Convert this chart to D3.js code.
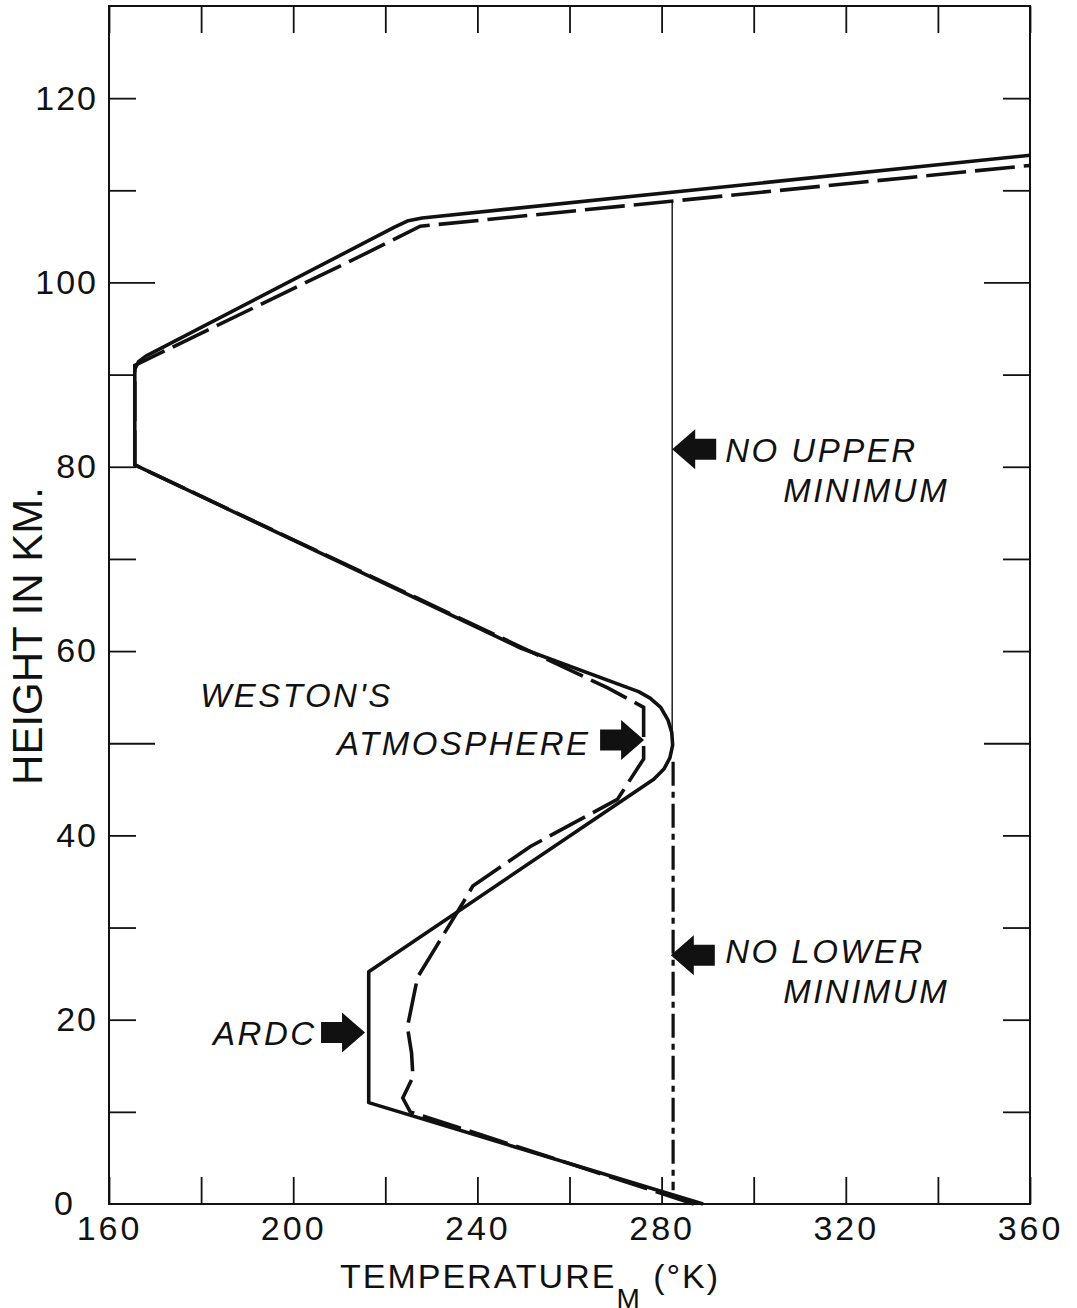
<!DOCTYPE html>
<html>
<head>
<meta charset="utf-8">
<script src="https://cdn.jsdelivr.net/npm/d3@7"></script>
<style>
  body { margin: 0; background: #fff; }
  svg { display: block; }
  .tick text { font-family: "Liberation Sans", Arial, sans-serif; fill: #111; }
  .note { font-family: "Liberation Sans", Arial, sans-serif; font-style: italic; fill: #111; }
</style>
</head>
<body>
<div id="chart"></div>
<script>
// temperature profiles, [temperature K, height km]
var ardcProfile = [
  [289, 0], [216.4, 11], [216.4, 25.2], [278.3, 46.1], [280.5, 47.2],
  [281.8, 48.4], [282.4, 49.8], [282.2, 51.2], [281.4, 52.5], [279.8, 53.9],
  [277.5, 54.9], [275, 55.6], [249.5, 60.3], [165.6, 80.2], [165.6, 90.6],
  [166.4, 91.4], [168, 92], [222, 106], [225, 106.7], [228, 107], [360, 113.8]
];
var westonProfile = [
  [287, 0], [225.4, 10], [223.8, 11.5], [226, 13.8], [225.7, 16.4],
  [224.8, 19.2], [227, 24.6], [237, 32.8], [239, 34.5], [251.5, 38.8],
  [270.4, 43.9], [276.1, 48.3], [276.1, 53.9], [268.3, 56], [165.6, 80.2],
  [165.6, 91], [216, 103.2], [227.6, 106.1], [360, 112.7]
];
// the two "no minimum" verticals
var noUpperMin = [[282.3, 108.8], [282.3, 49.7]];
var noLowerMin = [[282.5, 48.0], [282.5, 1.5]];

// axes
var xTicks = [160, 180, 200, 220, 240, 260, 280, 300, 320, 340, 360];
var xLabels = [160, 200, 240, 280, 320, 360];
var yTicks = [10, 20, 30, 40, 60, 70, 80, 90, 110, 120];
var yLongTicks = [50, 100];
var yLabels = [0, 20, 40, 60, 80, 100, 120];

// arrows: tip at [T, h], dir +1 points right, -1 points left
var arrows = [
  { t: 276.2, h: 50.35, dir: 1 },
  { t: 215.6, h: 18.6, dir: 1 },
  { t: 282.3, h: 81.9, dir: -1 },
  { t: 282.0, h: 27.0, dir: -1 }
];
var notes = [
  { text: "WESTON'S", t: 179.8, h: 53.9 },
  { text: "ATMOSPHERE", t: 209.5, h: 48.7 },
  { text: "ARDC", t: 182.6, h: 17.3 },
  { text: "NO UPPER", t: 293.8, h: 80.5 },
  { text: "MINIMUM", t: 306.4, h: 76.2 },
  { text: "NO LOWER", t: 293.8, h: 26.2 },
  { text: "MINIMUM", t: 306.4, h: 21.8 }
];

var svgWidth = 1077, svgHeight = 1308;
var plotLeft = 109, plotRight = 1030, plotTop = 6, plotBottom = 1204;

var svg = d3.select("#chart").append("svg")
  .attr("width", svgWidth)
  .attr("height", svgHeight);

svg.append("rect")
  .attr("width", svgWidth).attr("height", svgHeight)
  .attr("fill", "#fff");

var x = d3.scaleLinear().domain([160, 360]).range([plotLeft, plotRight]);
var y = d3.scaleLinear().domain([0, 130]).range([plotBottom, plotTop]);

// tick marks, all pointing inward
function ticksOnly(axis) {
  return function(g) {
    g.call(axis);
    g.select(".domain").remove();
    g.selectAll(".tick line").attr("stroke", "#111").attr("stroke-width", 1.8);
    g.selectAll(".tick text").remove();
  };
}

svg.append("g")
  .attr("transform", "translate(0," + plotBottom + ")")
  .call(ticksOnly(d3.axisBottom(x).tickValues(xTicks).tickSize(-27)));
svg.append("g")
  .attr("transform", "translate(0," + plotTop + ")")
  .call(ticksOnly(d3.axisTop(x).tickValues(xTicks).tickSize(-27)));
svg.append("g")
  .attr("transform", "translate(" + plotLeft + ",0)")
  .call(ticksOnly(d3.axisLeft(y).tickValues(yTicks).tickSize(-27)));
svg.append("g")
  .attr("transform", "translate(" + plotLeft + ",0)")
  .call(ticksOnly(d3.axisLeft(y).tickValues(yLongTicks).tickSize(-46)));
svg.append("g")
  .attr("transform", "translate(" + plotRight + ",0)")
  .call(ticksOnly(d3.axisRight(y).tickValues(yTicks).tickSize(-27)));
svg.append("g")
  .attr("transform", "translate(" + plotRight + ",0)")
  .call(ticksOnly(d3.axisRight(y).tickValues(yLongTicks).tickSize(-46)));

// tick labels
var xLab = svg.append("g")
  .attr("transform", "translate(0," + plotBottom + ")")
  .call(d3.axisBottom(x).tickValues(xLabels).tickSize(0).tickPadding(12));
xLab.select(".domain").remove();
xLab.selectAll(".tick text")
  .attr("font-size", 34)
  .attr("letter-spacing", 3);

var yLab = svg.append("g")
  .attr("transform", "translate(" + plotLeft + ",0)")
  .call(d3.axisLeft(y).tickValues(yLabels).tickSize(0).tickPadding(11));
yLab.select(".domain").remove();
yLab.selectAll(".tick text")
  .attr("font-size", 34)
  .attr("letter-spacing", 2)
  .attr("dx", d => d === 0 ? -23 : 0);

// frame
svg.append("rect")
  .attr("x", x(160)).attr("y", y(130))
  .attr("width", x(360) - x(160))
  .attr("height", y(0) - y(130))
  .attr("fill", "none")
  .attr("stroke", "#111")
  .attr("stroke-width", 2);

var line = d3.line()
  .x(d => x(d[0]))
  .y(d => y(d[1]));

svg.append("path")
  .datum(noUpperMin)
  .attr("d", line)
  .attr("fill", "none")
  .attr("stroke", "#111")
  .attr("stroke-width", 1.4);

svg.append("path")
  .datum(noLowerMin)
  .attr("d", line)
  .attr("fill", "none")
  .attr("stroke", "#111")
  .attr("stroke-width", 3.2)
  .attr("stroke-dasharray", "24,6,6,6");

svg.append("path")
  .datum(westonProfile)
  .attr("d", line)
  .attr("fill", "none")
  .attr("stroke", "#111")
  .attr("stroke-width", 3.6)
  .attr("stroke-dasharray", "40,9");

svg.append("path")
  .datum(ardcProfile)
  .attr("d", line)
  .attr("fill", "none")
  .attr("stroke", "#111")
  .attr("stroke-width", 3.6)
  .attr("stroke-linejoin", "round");

// block arrows
svg.selectAll(".arrow")
  .data(arrows)
  .enter().append("path")
  .attr("class", "arrow")
  .attr("fill", "#111")
  .attr("d", function(d) {
    var tx = x(d.t), ty = y(d.h), s = -d.dir;
    var pts = [
      [tx, ty],
      [tx + s * 23, ty - 20],
      [tx + s * 23, ty - 10.5],
      [tx + s * 44, ty - 10.5],
      [tx + s * 44, ty + 10.5],
      [tx + s * 23, ty + 10.5],
      [tx + s * 23, ty + 20]
    ];
    return "M" + pts.map(p => p.join(",")).join("L") + "Z";
  });

svg.selectAll(".note")
  .data(notes)
  .enter().append("text")
  .attr("class", "note")
  .attr("x", d => x(d.t))
  .attr("y", d => y(d.h))
  .attr("font-size", 33)
  .attr("letter-spacing", 2.5)
  .text(d => d.text);

// axis titles
var xTitle = svg.append("text")
  .attr("x", 340)
  .attr("y", 1288)
  .attr("font-family", "Liberation Sans, Arial, sans-serif")
  .attr("font-size", 34)
  .attr("letter-spacing", 2)
  .attr("fill", "#111");
xTitle.append("tspan").text("TEMPERATURE");
xTitle.append("tspan").attr("dy", 20).attr("font-size", 28).text("M");
xTitle.append("tspan").attr("dy", -20).text(" (°K)");

svg.append("text")
  .attr("transform", "translate(42,636) rotate(-90)")
  .attr("text-anchor", "middle")
  .attr("font-family", "Liberation Sans, Arial, sans-serif")
  .attr("font-size", 42)
  .attr("fill", "#111")
  .text("HEIGHT IN KM.");

svg.append("text")
  .attr("x", 1003)
  .attr("y", 1330)
  .attr("font-family", "Liberation Serif, serif")
  .attr("font-style", "italic")
  .attr("font-size", 34)
  .attr("fill", "#111")
  .text("Fig. 7");
</script>
</body>
</html>
